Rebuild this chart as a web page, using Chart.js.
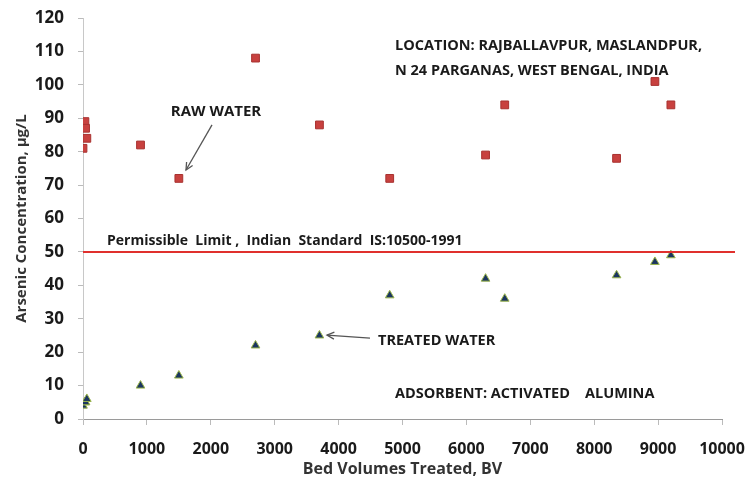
<!DOCTYPE html>
<html>
<head>
<meta charset="utf-8">
<script src="https://cdn.jsdelivr.net/npm/chart.js@4.4.1/dist/chart.umd.min.js"></script>
<style>
  html, body { margin: 0; padding: 0; background: #fff; }
  #wrap { width: 746px; height: 486px; }
</style>
</head>
<body>
<div id="wrap"><canvas id="myChart" width="746" height="486"></canvas></div>
<script>
// bed volumes (BV) and arsenic concentration (µg/L)
const rawBV = [0, 30, 40, 60, 900, 1500, 2700, 3700, 4800, 6300, 6600, 8350, 8950, 9200];
const rawAs = [81, 89, 87, 84, 82, 72, 108, 88, 72, 79, 94, 78, 101, 94];
const treatedBV = [0, 30, 40, 60, 900, 1500, 2700, 3700, 4800, 6300, 6600, 8350, 8950, 9200];
const treatedAs = [4, 5, 5, 6, 10, 13, 22, 25, 37, 42, 36, 43, 47, 49];
const permissibleLimit = 50;
const xTicks = [0, 1000, 2000, 3000, 4000, 5000, 6000, 7000, 8000, 9000, 10000];
const yTicks = [0, 10, 20, 30, 40, 50, 60, 70, 80, 90, 100, 110, 120];

const FONT = '"Open Sans", sans-serif';

const toPoints = (xs, ys) => xs.map((x, i) => ({ x: x, y: ys[i] }));

const notes = {
  id: 'notes',
  afterDatasetsDraw(chart) {
    const c = chart.ctx, xs = chart.scales.x, ys = chart.scales.y, a = chart.chartArea;
    const X = v => xs.getPixelForValue(v), Y = v => ys.getPixelForValue(v);
    c.save();
    // permissible limit line
    c.strokeStyle = '#e0302d';
    c.lineWidth = 2;
    c.beginPath();
    c.moveTo(a.left, Y(permissibleLimit));
    c.lineTo(a.right + 13, Y(permissibleLimit));
    c.stroke();

    c.fillStyle = '#1a1a1a';
    c.textBaseline = 'middle';
    c.textAlign = 'left';
    c.font = 'bold 14.5px ' + FONT;
    c.fillText('LOCATION: RAJBALLAVPUR, MASLANDPUR,', X(4883), Y(111.6));
    c.fillText('N 24 PARGANAS, WEST BENGAL, INDIA', X(4883), Y(104.1));
    c.fillText('ADSORBENT: ACTIVATED    ALUMINA', X(4883), Y(7.5));
    c.fillText('TREATED WATER', X(4617), Y(23.3));
    c.font = 'bold 14px ' + FONT;
    c.fillText('Permissible  Limit ,  Indian  Standard  IS:10500-1991', X(376), Y(53.3));
    c.font = 'bold 15px ' + FONT;
    c.textAlign = 'center';
    c.fillText('RAW WATER', X(2081), Y(91.9));

    // arrows
    const arrow = (x1, y1, x2, y2) => {
      const px1 = X(x1), py1 = Y(y1), px2 = X(x2), py2 = Y(y2);
      const ang = Math.atan2(py2 - py1, px2 - px1);
      c.strokeStyle = '#555';
      c.lineWidth = 1.3;
      c.beginPath();
      c.moveTo(px1, py1);
      c.lineTo(px2, py2);
      c.stroke();
      c.beginPath();
      c.moveTo(px2 - 8 * Math.cos(ang - 0.45), py2 - 8 * Math.sin(ang - 0.45));
      c.lineTo(px2, py2);
      c.lineTo(px2 - 8 * Math.cos(ang + 0.45), py2 - 8 * Math.sin(ang + 0.45));
      c.stroke();
    };
    arrow(2019, 88, 1612, 74.5);
    arrow(4491, 24.2, 3818, 25.1);
    c.restore();
  }
};

new Chart(document.getElementById('myChart'), {
  type: 'scatter',
  data: {
    datasets: [
      {
        label: 'Raw water',
        data: toPoints(rawBV, rawAs),
        pointStyle: 'rect',
        pointRadius: 5.5,
        backgroundColor: '#c8413f',
        borderColor: '#a83230',
        borderWidth: 1
      },
      {
        label: 'Treated water',
        data: toPoints(treatedBV, treatedAs),
        pointStyle: 'triangle',
        pointRadius: 5,
        backgroundColor: '#1b3560',
        borderColor: '#9bb54a',
        borderWidth: 1
      }
    ]
  },
  options: {
    responsive: false,
    animation: false,
    layout: { padding: { top: 18, right: 24, left: 0, bottom: 3 } },
    plugins: {
      legend: { display: false },
      tooltip: { enabled: false }
    },
    scales: {
      x: {
        type: 'linear',
        min: 0,
        max: 10000,
        afterBuildTicks: s => { s.ticks = xTicks.map(v => ({ value: v })); },
        afterFit: s => { s.height = 64; s.paddingLeft = 0; s.paddingRight = 0; },
        grid: { drawOnChartArea: false, tickLength: 6, color: '#bbb' },
        border: { color: '#9a9a9a', width: 1 },
        ticks: { color: '#1a1a1a', font: { family: FONT, size: 16, weight: 'bold' }, padding: 15, maxRotation: 0, callback: v => String(v) },
        title: { display: true, text: 'Bed Volumes Treated, BV', color: '#333', font: { family: FONT, size: 16, weight: 'bold' }, padding: { top: 0 } }
      },
      y: {
        type: 'linear',
        min: 0,
        max: 120,
        afterBuildTicks: s => { s.ticks = yTicks.map(v => ({ value: v })); },
        afterFit: s => { s.width = 83; s.paddingTop = 0; s.paddingBottom = 0; },
        grid: { drawOnChartArea: false, tickLength: 5, color: '#bbb' },
        border: { color: '#c8c8c8', width: 1 },
        ticks: { color: '#1a1a1a', font: { family: FONT, size: 17, weight: 'bold' }, padding: 14 },
        title: { display: true, text: 'Arsenic Concentration, µg/L', color: '#333', font: { family: FONT, size: 15, weight: 'bold' }, padding: { top: 13, bottom: 0 } }
      }
    }
  },
  plugins: [notes]
});
</script>
</body>
</html>
